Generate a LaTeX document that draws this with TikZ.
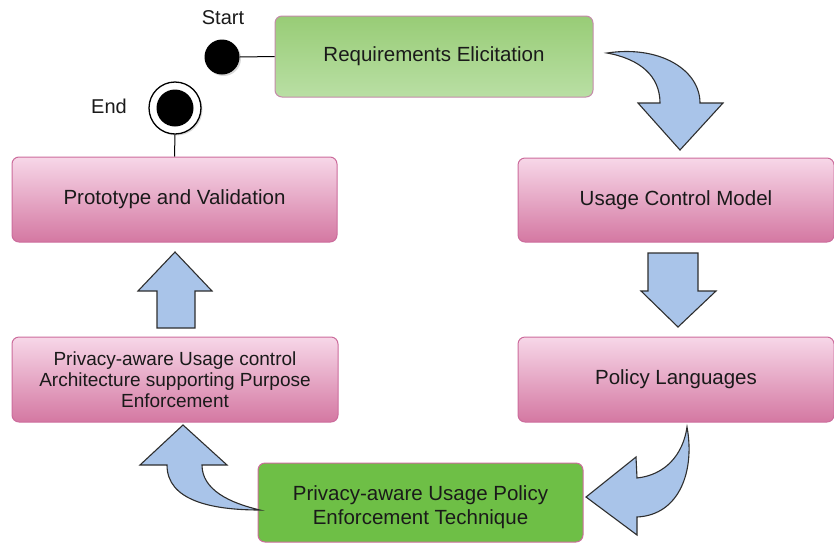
\documentclass[tikz,border=0pt]{standalone}
\usepackage{fontspec}
\setmainfont{Liberation Sans}
\usetikzlibrary{shadows}
\definecolor{pinktop}{HTML}{F7D7E8}
\definecolor{pinkbot}{HTML}{D478A2}
\definecolor{pinkline}{HTML}{CC6C9C}
\definecolor{greentop}{HTML}{98CC76}
\definecolor{greenbot}{HTML}{B9DFA4}
\definecolor{greenline}{HTML}{C48AAA}
\definecolor{darkgreen}{HTML}{6EBF46}
\definecolor{arrowfill}{HTML}{A9C4E9}
\definecolor{arrowline}{HTML}{2E2E2E}
\definecolor{txt}{HTML}{1A1A1A}
\tikzset{
  box/.style={rectangle, rounded corners=7pt, line width=1pt, inner sep=0pt,
    align=center, text=txt, font=\fontsize{20.5}{24}\selectfont},
  pinkbox/.style={box, draw=pinkline, top color=pinktop, bottom color=pinkbot},
  greenbox/.style={box, draw=greenline, top color=greentop, bottom color=greenbot},
  darkbox/.style={box, draw=pinkline, fill=darkgreen},
  flow/.style={fill=arrowfill, draw=arrowline, line width=1.1pt, line join=miter},
  lbl/.style={text=txt, font=\fontsize{20}{24}\selectfont, inner sep=0pt},
  link/.style={draw=black, line width=1pt}
}
\begin{document}
\begin{tikzpicture}[x=1pt, y=-1pt]
\useasboundingbox (0,0) rectangle (834,544);

% process boxes
\node[greenbox, minimum width=318pt, minimum height=81pt] (req) at (434,56.5) {\raisebox{-2pt}{Requirements Elicitation}};
\node[pinkbox, minimum width=316pt, minimum height=84pt] (ucm) at (676,200) {Usage Control Model};
\node[pinkbox, minimum width=316pt, minimum height=85pt] (pl) at (676,379.5) {Policy Languages};
\node[darkbox, minimum width=325pt, minimum height=79pt] (enf) at (420.5,502.5) {};
\node[align=center, text=txt, font=\fontsize{20.5}{24}\selectfont, inner sep=0pt] (enftext) at (420.5,507) {Privacy-aware Usage Policy\\Enforcement Technique};
\node[pinkbox, minimum width=326pt, minimum height=85pt, font=\fontsize{19}{21}\selectfont] (arch) at (175,379.5) {Privacy-aware Usage control\\Architecture supporting Purpose\\Enforcement};
\node[pinkbox, minimum width=325pt, minimum height=85pt] (proto) at (174.5,199.5) {Prototype and Validation};

% start and end states
\node[circle, fill=black, minimum size=35pt, inner sep=0pt,
      drop shadow={shadow xshift=1.5pt, shadow yshift=-1.5pt, opacity=0.3}] (start) at (222,57) {};
\node[lbl] (startlbl) at (223,18) {Start};
\draw[link] (start.east) -- (req.west);

\node[circle, draw=black, line width=1.3pt, fill=white, minimum size=52pt, inner sep=0pt,
      drop shadow={shadow xshift=1.5pt, shadow yshift=-1.5pt, opacity=0.3}] (stop) at (175,108) {};
\node[circle, fill=black, minimum size=37pt, inner sep=0pt] (stopdot) at (stop) {};
\node[lbl] (stoplbl) at (109,106) {End};
\draw[link] (stop.south) -- (proto.north);

% block arrows between the stages
\draw[flow] (607,53) .. controls (660,45) and (700,70) .. (700,103)
  -- (723,103) -- (680,150) -- (638,103) -- (660,103)
  .. controls (660,76) and (640,59) .. cycle;

\draw[flow] (648,253) -- (698,253) -- (698,291) -- (716,291) -- (678,327)
  -- (641,291) -- (648,291) -- cycle;

\draw[flow] (687,427) .. controls (695,470) and (680,515) .. (637,517)
  -- (637,535) -- (586,497) -- (636,457) -- (637,478)
  .. controls (665,475) and (683,455) .. cycle;

\draw[flow] (260,510) .. controls (210,510) and (167,500) .. (167,465)
  -- (140,465) -- (183,425) -- (227,465) -- (202,465)
  .. controls (202,490) and (230,503) .. cycle;

\draw[flow] (157,328) -- (195,328) -- (195,291) -- (212,291) -- (175,252)
  -- (138,291) -- (157,291) -- cycle;
\end{tikzpicture}
\end{document}
